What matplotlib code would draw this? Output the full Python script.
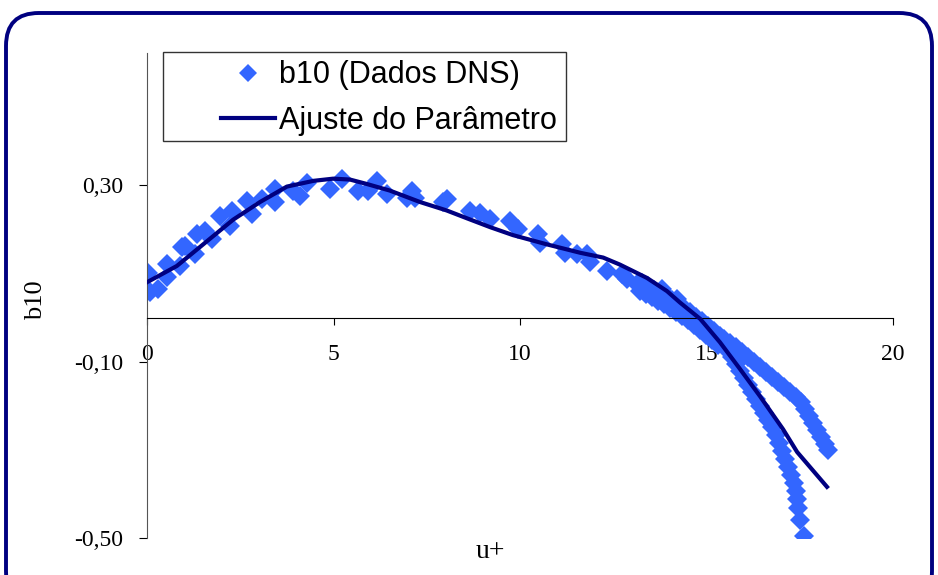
import matplotlib
matplotlib.use('Agg')
import matplotlib.pyplot as plt
from matplotlib.patches import FancyBboxPatch, Rectangle
from matplotlib.lines import Line2D

# DNS data points (u+, b10)
dns_u = [0.04, 0.08, 0.30, 0.53, 0.53, 0.93, 0.88, 1.02, 1.29, 1.33, 1.55, 1.73,
         1.96, 2.23, 2.27, 2.67, 2.81, 3.08, 3.43, 3.43, 3.92, 4.10,
         4.28, 4.91, 5.22, 5.66, 5.93, 6.16, 6.43, 6.96, 7.10, 7.18, 7.94, 8.03,
         8.66, 8.93, 9.20, 9.73, 9.95, 10.49, 10.54, 11.12, 11.21, 11.52, 11.79,
         11.88, 12.32, 12.73, 12.86, 13.13, 13.40, 13.80, 13.93, 14.20,
         13.27, 13.43, 13.59, 13.75, 13.91, 14.08, 14.24, 14.40, 14.56, 14.72,
         14.88, 15.04, 15.21, 15.37,
         13.22, 13.38, 13.54, 13.70, 13.86, 14.02, 14.18, 14.34, 14.50, 14.66,
         14.83, 14.99, 15.15, 15.31,
         15.47, 15.63, 15.79, 15.95, 16.11, 16.27, 16.43, 16.59, 16.76, 16.92,
         17.08, 17.24, 17.40, 17.53, 17.64, 17.75, 17.86, 17.96, 18.07, 18.18, 18.26,
         15.47, 15.58, 15.68, 15.79, 15.90, 16.01, 16.11, 16.22, 16.33, 16.43,
         16.54, 16.65, 16.76, 16.86, 16.94, 17.02, 17.10, 17.18, 17.27, 17.35,
         17.40, 17.43, 17.45, 17.51, 17.61]
dns_b10 = [0.102, 0.057, 0.064, 0.121, 0.092, 0.160, 0.117, 0.162, 0.144, 0.189, 0.196, 0.178,
           0.230, 0.208, 0.242, 0.264, 0.234, 0.268, 0.261, 0.291, 0.287, 0.276,
           0.306, 0.291, 0.314, 0.287, 0.287, 0.310, 0.280, 0.272, 0.287, 0.272, 0.261, 0.268,
           0.242, 0.238, 0.223, 0.219, 0.200, 0.189, 0.170, 0.166, 0.147, 0.144, 0.144,
           0.125, 0.106, 0.098, 0.087, 0.076, 0.064, 0.064, 0.049, 0.042,
           0.078, 0.071, 0.062, 0.055, 0.046, 0.039, 0.030, 0.021, 0.012, 0.001,
           -0.008, -0.020, -0.031, -0.042,
           0.060, 0.053, 0.046, 0.037, 0.030, 0.021, 0.012, 0.003, -0.006, -0.017,
           -0.029, -0.040, -0.051, -0.063,
           -0.049, -0.058, -0.067, -0.078, -0.090, -0.101, -0.112, -0.124, -0.135, -0.146,
           -0.158, -0.169, -0.180, -0.192, -0.208, -0.224, -0.239, -0.255, -0.271, -0.287, -0.301,
           -0.060, -0.076, -0.090, -0.106, -0.122, -0.137, -0.153, -0.169, -0.185, -0.201,
           -0.217, -0.233, -0.248, -0.267, -0.285, -0.303, -0.321, -0.339, -0.357, -0.375,
           -0.393, -0.412, -0.432, -0.459, -0.495]

# fitted curve (Ajuste do Parametro)
fit_u = [0.00, 0.80, 1.42, 2.31, 3.03, 3.75, 4.46, 4.99, 5.44, 5.89, 6.51, 7.32,
         8.03, 8.58, 9.20, 9.81, 10.72, 11.61, 12.23, 12.68, 13.40, 13.94, 14.29,
         14.83, 15.36, 15.90, 16.43, 17.05, 17.43, 18.23]
fit_b10 = [0.080, 0.117, 0.160, 0.222, 0.262, 0.297, 0.310, 0.315, 0.313, 0.303, 0.288, 0.262,
           0.243, 0.225, 0.205, 0.187, 0.166, 0.147, 0.136, 0.120, 0.090, 0.060, 0.034,
           -0.003, -0.056, -0.117, -0.178, -0.253, -0.305, -0.384]

x_ticks = [0, 5, 10, 15, 20]
y_ticks = [-0.50, -0.10, 0.30]
y_tick_labels = ['-0,50', '-0,10', '0,30']

W, H = 938, 575
fig = plt.figure(figsize=(W / 100, H / 100), dpi=100)
ax = fig.add_axes([147 / W, 1 - 538 / H, (893 - 147) / W, (538 - 53) / H])

ax.plot(dns_u, dns_b10, linestyle='none', marker='D', markersize=9.8,
        markerfacecolor='#3366FF', markeredgewidth=0, zorder=2)
ax.plot(fit_u, fit_b10, color='#000080', linewidth=3, zorder=3)

ax.set_xlim(0, 20)
ax.set_ylim(-0.50, 0.60)
ax.spines['top'].set_visible(False)
ax.spines['right'].set_visible(False)
ax.spines['bottom'].set_position(('data', 0))
ax.spines['left'].set_color('#555555')

ax.set_xticks(x_ticks)
ax.set_yticks(y_ticks)
ax.set_yticklabels(y_tick_labels)
serif = 'Liberation Serif'
ax.tick_params(axis='x', direction='out', length=5, pad=14)
ax.tick_params(axis='y', direction='out', length=6, pad=11)
for lbl in ax.get_xticklabels() + ax.get_yticklabels():
    lbl.set_fontfamily(serif)
    lbl.set_fontsize(17)

fig.text(490 / W, 1 - 552 / H, 'u+', family=serif, fontsize=20, ha='center', va='center')
fig.text(36 / W, 1 - 300 / H, 'b10', family=serif, fontsize=19, ha='center', va='center',
         rotation=90)

# legend: frame drawn separately
fig.patches.append(Rectangle((163 / W, 1 - 141 / H), (566 - 163) / W, (141 - 52) / H,
                             transform=fig.transFigure, fill=False,
                             edgecolor='#333333', linewidth=1))
handles = [Line2D([], [], linestyle='none', marker='D', markersize=9,
                  markerfacecolor='#3366FF', markeredgewidth=0),
           Line2D([], [], color='#000080', linewidth=3)]
fig.legend(handles, ['b10 (Dados DNS)', 'Ajuste do Parâmetro'],
           loc='center left', bbox_to_anchor=(206 / W, 1 - 98 / H),
           frameon=False, prop={'family': 'Liberation Sans', 'size': 22},
           handlelength=1.75, handletextpad=0.15, labelspacing=0.5, borderpad=0)

# rounded chart border
fig.patches.append(FancyBboxPatch((6 / W, -0.05), (932 - 6) / W, 1 - 13 / H + 0.05,
                                  boxstyle='round,pad=0,rounding_size=0.035',
                                  transform=fig.transFigure, fill=False,
                                  edgecolor='#000080', linewidth=2.8,
                                  mutation_aspect=W / H))

fig.savefig('out.png', dpi=100)
